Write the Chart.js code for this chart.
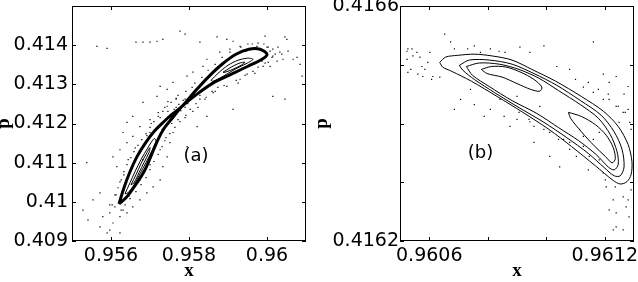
<!DOCTYPE html>
<html>
<head>
<meta charset="utf-8">
<script src="https://cdn.jsdelivr.net/npm/chart.js@4.4.0/dist/chart.umd.min.js"></script>
<style>
  html,body{margin:0;padding:0;background:#fff;}
  #wrap{position:relative;width:638px;height:282px;overflow:hidden;}
  .panel{position:absolute;top:0;height:282px;}
</style>
</head>
<body>
<div id="wrap">
  <div class="panel" style="left:0;width:318px"><canvas id="chartA" width="318" height="282"></canvas></div>
  <div class="panel" style="left:318px;width:320px"><canvas id="chartB" width="320" height="282"></canvas></div>
</div>
<script>
// ---- panel (a) data ----
const aXTicks = [0.956, 0.958, 0.96];
const aXLabels = ['0.956', '0.958', '0.96'];
const aYTicks = [0.409, 0.41, 0.411, 0.412, 0.413, 0.414];
const aYLabels = ['0.409', '0.41', '0.411', '0.412', '0.413', '0.414'];

// figure-eight separatrix (dense band)
const aSeparatrix = [
  [0.956205,0.409949],[0.956333,0.410359],[0.956487,0.410769],[0.956667,0.411154],[0.956872,0.411487],
  [0.957103,0.411795],[0.957333,0.412026],[0.957564,0.412231],[0.957821,0.412436],[0.958154,0.412821],
  [0.958487,0.413179],[0.958846,0.413513],[0.959205,0.413769],[0.959538,0.413897],[0.959821,0.413897],
  [0.960000,0.413769],[0.959872,0.413641],[0.959513,0.413462],[0.959077,0.413256],[0.958641,0.413051],
  [0.958231,0.412769],[0.957821,0.412436],[0.957564,0.412128],[0.957359,0.411872],[0.957205,0.411590],
  [0.957051,0.411231],[0.956872,0.410821],[0.956615,0.410410],[0.956385,0.410103],[0.956205,0.409949]
];
const aUpperLoop1 = [
  [0.958564,0.413103],[0.958744,0.413282],[0.959000,0.413487],[0.959256,0.413615],[0.959487,0.413667],
  [0.959641,0.413641],[0.959487,0.413538],[0.959179,0.413385],[0.958872,0.413205],[0.958615,0.413077],
  [0.958564,0.413103]
];
const aUpperLoop2 = [
  [0.958872,0.413308],[0.959077,0.413436],[0.959282,0.413538],[0.959436,0.413564],[0.959333,0.413487],
  [0.959128,0.413385],[0.958923,0.413308],[0.958872,0.413308]
];
const aLowerLoop1 = [
  [0.956359,0.410205],[0.956487,0.410487],[0.956615,0.410769],[0.956769,0.411077],[0.956949,0.411385],
  [0.957103,0.411615],[0.957154,0.411564],[0.957051,0.411308],[0.956897,0.411000],[0.956744,0.410718],
  [0.956590,0.410436],[0.956436,0.410231],[0.956359,0.410205]
];
const aLowerLoop2 = [
  [0.956513,0.410436],[0.956641,0.410692],[0.956769,0.410974],[0.956923,0.411256],[0.957000,0.411385],
  [0.956974,0.411256],[0.956846,0.411000],[0.956718,0.410744],[0.956590,0.410487],[0.956513,0.410436]
];
const aDots = [
  [0.95564,0.41397],[0.95590,0.41392],[0.95664,0.41408],[0.95682,0.41408],[0.95700,0.41408],[0.95718,0.41410],
  [0.95733,0.41415],[0.95777,0.41436],[0.95790,0.41428],[0.95828,0.41408],[0.95872,0.41421],[0.95897,0.41415],
  [0.95913,0.41410],[0.95995,0.41423],[0.96046,0.41421],[0.96051,0.41415],[0.96015,0.41269],[0.96046,0.41262],
  [0.96085,0.41351],[0.96077,0.41369],[0.96067,0.41364],[0.96090,0.41321],[0.95913,0.41236],[0.95846,0.41218],
  [0.95821,0.41192],[0.95795,0.41141],[0.95759,0.41177],[0.95751,0.41151],[0.95700,0.41177],[0.95641,0.41203],
  [0.95656,0.41218],[0.95682,0.41254],[0.95718,0.41269],[0.95726,0.41295],[0.95744,0.41287],[0.95759,0.41305],
  [0.95795,0.41321],[0.95810,0.41331],[0.95836,0.41346],[0.95846,0.41364],[0.95879,0.41382],[0.95905,0.41390],
  [0.95931,0.41397],[0.95951,0.41403],[0.95974,0.41397],[0.96000,0.41395],[0.96015,0.41390],[0.96033,0.41382],
  [0.96015,0.41372],[0.96026,0.41359],[0.96041,0.41364],[0.95990,0.41346],[0.95964,0.41333],[0.95931,0.41313],
  [0.95897,0.41295],[0.95862,0.41279],[0.95828,0.41262],
  [0.95538,0.41100],[0.95572,0.41023],[0.95554,0.41005],[0.95528,0.40979],[0.95541,0.40954],[0.95572,0.40936],
  [0.95597,0.40928],[0.95590,0.40921],[0.95605,0.40946],[0.95623,0.40921],[0.95597,0.40972],[0.95579,0.40962],
  [0.95610,0.40987],[0.95597,0.40992],[0.95623,0.40962],[0.95641,0.40972],[0.95631,0.40979],[0.95656,0.40987],
  [0.95674,0.41005],[0.95692,0.41023],[0.95708,0.41038],[0.95726,0.41056],[0.95733,0.41090],[0.95744,0.41115],
  [0.95615,0.41090],[0.95605,0.41115],[0.95623,0.41133],[0.95641,0.41151],[0.95656,0.41167],[0.95631,0.41177],
  [0.95674,0.41192],[0.95700,0.41210],
  [0.95738,0.41241],[0.95746,0.41256],[0.95767,0.41262],[0.95772,0.41272],[0.95790,0.41262],[0.95797,0.41251],
  [0.95803,0.41236],[0.95810,0.41231],[0.95818,0.41251],[0.95828,0.41272],[0.95756,0.41200],[0.95772,0.41210],
  [0.95792,0.41221],[0.95746,0.41231],[0.95726,0.41215],[0.95721,0.41228],[0.95808,0.41292],[0.95792,0.41282],
  [0.95838,0.41287],[0.95844,0.41267],[0.95859,0.41282],[0.95874,0.41292],[0.95823,0.41241],[0.95731,0.41185],
  [0.95741,0.41164],[0.95703,0.41200],[0.95692,0.41169],[0.95713,0.41144],[0.95726,0.41133],[0.95682,0.41108],
  [0.95662,0.41138],[0.95644,0.41108],[0.95633,0.41069],[0.95623,0.41051],[0.95674,0.41056],[0.95700,0.41095],
  [0.95610,0.41018],[0.95646,0.41015],[0.95603,0.40992],[0.95626,0.40979],[0.95636,0.40992],
  [0.96008,0.41385],[0.96013,0.41369],[0.96021,0.41377],[0.96003,0.41395],[0.95992,0.41403],[0.95977,0.41405],
  [0.95962,0.41403],[0.95987,0.41359],[0.96003,0.41356],[0.96028,0.41395],[0.96038,0.41377],[0.96054,0.41385],
  [0.96008,0.41346],[0.95969,0.41328],[0.95944,0.41323],[0.95926,0.41303],
  [0.95613,0.41018],[0.95618,0.41036],[0.95626,0.41056],[0.95633,0.41077],[0.95641,0.41095],[0.95651,0.41113],
  [0.95659,0.41128],[0.95669,0.41144],[0.95679,0.41159],[0.95690,0.41174],[0.95700,0.41190],[0.95710,0.41205],
  [0.95721,0.41218],[0.95733,0.41231],[0.95744,0.41244],[0.95754,0.41254],[0.95767,0.41264],
  [0.95649,0.41008],[0.95664,0.41026],[0.95677,0.41044],[0.95690,0.41062],[0.95700,0.41082],[0.95710,0.41103],
  [0.95721,0.41121],[0.95731,0.41141],[0.95738,0.41156],[0.95751,0.41174],[0.95764,0.41190],[0.95777,0.41205],
  [0.95790,0.41215],
  [0.95815,0.41303],[0.95833,0.41318],[0.95849,0.41336],[0.95867,0.41351],[0.95885,0.41369],[0.95905,0.41382],
  [0.95933,0.41395],[0.95946,0.41385],
  [0.95841,0.41262],[0.95867,0.41282],[0.95890,0.41297],[0.95921,0.41310],[0.95949,0.41326],[0.95977,0.41344],
  [0.95995,0.41354],
  [0.95774,0.41249],[0.95790,0.41241],[0.95779,0.41233],[0.95767,0.41241],[0.95797,0.41262],[0.95805,0.41272],
  [0.95785,0.41259],[0.95762,0.41236],[0.95751,0.41221]
];

// ---- panel (b) data ----
const bXTicks = [0.9606, 0.9608, 0.961, 0.9612];
const bXLabels = ['0.9606', '', '', '0.9612'];
const bYTicks = [0.4162, 0.4163, 0.4164, 0.4165, 0.4166];
const bYLabels = ['0.4162', '', '', '', '0.4166'];

const bOrbit1 = [
  [0.960636,0.416504],[0.960656,0.416513],[0.960697,0.416516],[0.960754,0.416518],[0.960815,0.416515],
  [0.960883,0.416508],[0.960951,0.416492],[0.961032,0.416472],[0.961120,0.416446],[0.961195,0.416421],
  [0.961246,0.416395],[0.961280,0.416364],[0.961293,0.416335],[0.961290,0.416313],[0.961276,0.416301],
  [0.961253,0.416297],[0.961229,0.416303],[0.961168,0.416328],[0.961086,0.416361],[0.961009,0.416390],
  [0.960920,0.416419],[0.960832,0.416446],[0.960744,0.416472],[0.960676,0.416489],[0.960646,0.416496],
  [0.960636,0.416504]
];
const bOrbit2 = [
  [0.960703,0.416499],[0.960737,0.416508],[0.960805,0.416508],[0.960883,0.416501],[0.960958,0.416485],
  [0.961036,0.416465],[0.961117,0.416439],[0.961188,0.416414],[0.961232,0.416386],[0.961259,0.416356],
  [0.961266,0.416326],[0.961253,0.416311],[0.961232,0.416311],[0.961198,0.416325],[0.961144,0.416349],
  [0.961070,0.416376],[0.960992,0.416402],[0.960907,0.416427],[0.960822,0.416453],[0.960754,0.416475],
  [0.960714,0.416491],[0.960703,0.416499]
];
const bOrbit3 = [
  [0.960727,0.416497],[0.960771,0.416503],[0.960839,0.416501],[0.960907,0.416492],[0.960975,0.416477],
  [0.961042,0.416456],[0.961117,0.416432],[0.961178,0.416409],[0.961219,0.416381],[0.961242,0.416352],
  [0.961246,0.416330],[0.961232,0.416321],[0.961212,0.416326],[0.961171,0.416347],[0.961110,0.416371],
  [0.961042,0.416393],[0.960968,0.416417],[0.960883,0.416439],[0.960805,0.416463],[0.960748,0.416482],
  [0.960727,0.416497]
];
const bIsland1 = [
  [0.960778,0.416492],[0.960812,0.416497],[0.960863,0.416496],[0.960914,0.416487],[0.960958,0.416475],
  [0.960985,0.416462],[0.960978,0.416455],[0.960947,0.416458],[0.960900,0.416468],[0.960849,0.416479],
  [0.960798,0.416485],[0.960778,0.416492]
];
const bIsland2 = [
  [0.961076,0.416419],[0.961120,0.416412],[0.961168,0.416398],[0.961205,0.416380],[0.961229,0.416359],
  [0.961236,0.416340],[0.961225,0.416333],[0.961202,0.416344],[0.961164,0.416362],[0.961120,0.416386],
  [0.961083,0.416409],[0.961076,0.416419]
];
const bDots = [
  [0.960524,0.416523],[0.960541,0.416527],[0.960558,0.416521],[0.960568,0.416513],[0.960575,0.416497],
  [0.960527,0.416487],[0.960561,0.416484],[0.960578,0.416480],[0.960608,0.416475],[0.960612,0.416480],
  [0.960524,0.416509],[0.960602,0.416521],[0.960595,0.416504],[0.960527,0.416527],[0.960544,0.416515],
  [0.960537,0.416492],[0.960585,0.416492],[0.960636,0.416479],[0.960653,0.416552],[0.960673,0.416539],
  [0.960686,0.416527],[0.960731,0.416527],[0.960754,0.416532],[0.960775,0.416521],[0.960809,0.416527],
  [0.960839,0.416523],[0.960859,0.416521],[0.960910,0.416530],[0.960944,0.416521],[0.960992,0.416532],
  [0.961036,0.416497],[0.961080,0.416492],[0.961127,0.416462],[0.961161,0.416539],[0.961161,0.416453],
  [0.961195,0.416441],[0.961215,0.416441],[0.961239,0.416429],[0.961263,0.416419],[0.961280,0.416424],
  [0.961249,0.416402],[0.961290,0.416390],[0.961205,0.416292],[0.961229,0.416270],[0.961215,0.416253],
  [0.961239,0.416248],[0.961263,0.416275],[0.961280,0.416270],[0.961290,0.416287],[0.961239,0.416224],
  [0.961229,0.416219],[0.961263,0.416219],[0.961283,0.416241],[0.961273,0.416258],[0.961195,0.416316],
  [0.961181,0.416338],[0.961147,0.416344],[0.961127,0.416361],[0.961103,0.416344],[0.961080,0.416368],
  [0.961080,0.416356],[0.961059,0.416373],[0.961012,0.416385],[0.960992,0.416390],[0.960958,0.416395],
  [0.960944,0.416403],[0.960900,0.416407],[0.960876,0.416395],[0.960856,0.416412],[0.960809,0.416424],
  [0.960788,0.416412],[0.960754,0.416432],[0.960686,0.416424],[0.960707,0.416441],[0.960741,0.416458],
  [0.960900,0.416446],[0.960842,0.416441],[0.960978,0.416429],[0.960958,0.416368],[0.961012,0.416344],
  [0.961046,0.416326],[0.961114,0.416390],[0.961127,0.416378],[0.961161,0.416373],[0.961181,0.416385],
  [0.961266,0.416450],[0.961215,0.416470],[0.961280,0.416463],[0.961239,0.416480],[0.961195,0.416484],
  [0.961144,0.416470],[0.961178,0.416458],[0.961212,0.416450],[0.961246,0.416429],[0.961270,0.416419],
  [0.961286,0.416402],[0.961100,0.416475],[0.960907,0.416419],[0.960941,0.416407],[0.961042,0.416373],
  [0.961236,0.416292],[0.961202,0.416304],[0.961144,0.416321]
];

// ---- helpers ----
const pts = arr => arr.map(([x, y]) => ({x, y}));
const lineSet = (arr, w) => ({data: pts(arr), showLine: true, fill: false, pointRadius: 0,
  borderColor: '#000', borderWidth: w, tension: 0.3});
const dotSet = arr => ({data: pts(arr), showLine: false, pointStyle: 'rect', pointRadius: 0.85,
  backgroundColor: '#000', borderWidth: 0});

// frame, inward ticks and panel tag
const frame = {
  id: 'frame',
  afterDatasetsDraw(chart, args, opts){
    const {ctx, chartArea: a, scales: {x, y}} = chart;
    ctx.save();
    ctx.strokeStyle = '#000'; ctx.lineWidth = 1;
    ctx.strokeRect(a.left + 0.5, a.top + 0.5, a.right - a.left - 1, a.bottom - a.top - 1);
    ctx.beginPath();
    x.ticks.forEach(t => {
      const px = Math.round(x.getPixelForValue(t.value)) + 0.5;
      ctx.moveTo(px, a.bottom); ctx.lineTo(px, a.bottom - 4);
      ctx.moveTo(px, a.top); ctx.lineTo(px, a.top + 4);
    });
    y.ticks.forEach(t => {
      const py = Math.round(y.getPixelForValue(t.value)) + 0.5;
      ctx.moveTo(a.left, py); ctx.lineTo(a.left + 4, py);
      ctx.moveTo(a.right, py); ctx.lineTo(a.right - 4, py);
    });
    ctx.stroke();
    ctx.font = '18px "DejaVu Sans"';
    ctx.fillStyle = '#000'; ctx.textAlign = 'center'; ctx.textBaseline = 'middle';
    ctx.fillText(opts.tag, x.getPixelForValue(opts.at[0]), y.getPixelForValue(opts.at[1]));
    ctx.restore();
  }
};

function fit(size, horiz){
  return s => {
    if (horiz) s.height = size; else s.width = size;
    s.paddingTop = s.paddingBottom = s.paddingLeft = s.paddingRight = 0;
  };
}

const tickFont = {family: '"DejaVu Sans"', size: 19};
const titleFont = {family: '"Liberation Serif"', weight: 'bold', size: 19, lineHeight: 1.2};

function panel(id, p){
  return new Chart(document.getElementById(id), {
    type: 'scatter',
    data: {datasets: p.datasets},
    plugins: [frame],
    options: {
      responsive: false, animation: false, events: [], devicePixelRatio: 1,
      layout: {padding: {left: 0, right: p.padRight, top: 6, bottom: 0}},
      plugins: {legend: {display: false}, tooltip: {enabled: false}, frame: {tag: p.tag, at: p.tagAt}},
      scales: {
        x: {
          type: 'linear', min: p.xMin, max: p.xMax,
          grid: {display: false, drawTicks: false}, border: {display: false},
          afterBuildTicks: s => { s.ticks = p.xTicks.map(v => ({value: v})); },
          afterFit: fit(41, true),
          ticks: {autoSkip: false, maxRotation: 0, padding: 4, color: '#000', font: tickFont,
            callback: (v, i) => p.xLabels[i]},
          title: {display: true, text: 'x', color: '#000', font: titleFont, padding: {top: 0, bottom: 0}}
        },
        y: {
          type: 'linear', min: p.yMin, max: p.yMax,
          grid: {display: false, drawTicks: false}, border: {display: false},
          afterBuildTicks: s => { s.ticks = p.yTicks.map(v => ({value: v})); },
          afterFit: fit(p.yWidth, false),
          ticks: {autoSkip: false, padding: p.yPad, color: '#000', font: tickFont,
            callback: (v, i) => p.yLabels[i]},
          title: {display: true, text: 'p', color: '#000',
            font: {...titleFont, lineHeight: 0.4}, padding: {top: 0, bottom: 0}}
        }
      }
    }
  });
}

panel('chartA', {
  datasets: [lineSet(aSeparatrix, 3), lineSet(aUpperLoop1, 1), lineSet(aUpperLoop2, 1),
    lineSet(aLowerLoop1, 1), lineSet(aLowerLoop2, 1), dotSet(aDots)],
  xMin: 0.955, xMax: 0.961, yMin: 0.409, yMax: 0.415,
  xTicks: aXTicks, xLabels: aXLabels, yTicks: aYTicks, yLabels: aYLabels,
  yWidth: 72, yPad: 4, padRight: 12, tag: '(a)', tagAt: [0.95818, 0.41117]
});

panel('chartB', {
  datasets: [lineSet(bOrbit1, 1), lineSet(bOrbit2, 1), lineSet(bOrbit3, 1),
    lineSet(bIsland1, 1), lineSet(bIsland2, 1), dotSet(bDots)],
  xMin: 0.9605, xMax: 0.9613, yMin: 0.4162, yMax: 0.4166,
  xTicks: bXTicks, xLabels: bXLabels, yTicks: bYTicks, yLabels: bYLabels,
  yWidth: 82, yPad: 1, padRight: 2, tag: '(b)', tagAt: [0.960775, 0.41635]
});
</script>
</body>
</html>
